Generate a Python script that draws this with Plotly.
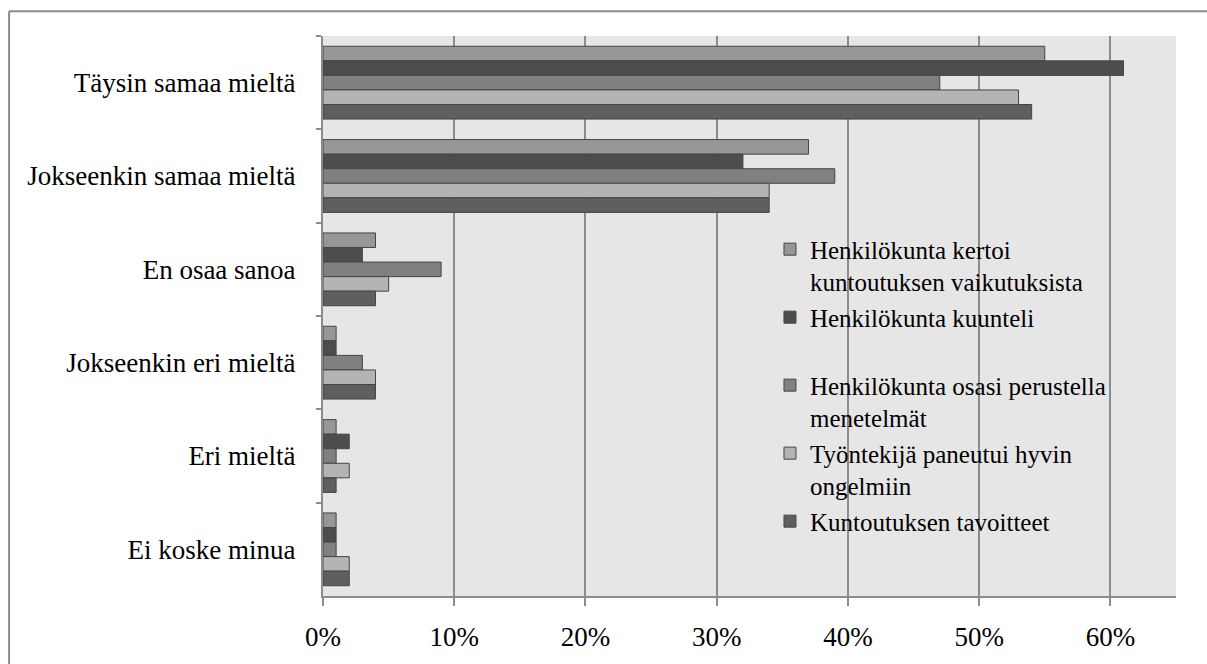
import plotly.graph_objects as go

categories = ["Täysin samaa mieltä", "Jokseenkin samaa mieltä", "En osaa sanoa",
              "Jokseenkin eri mieltä", "Eri mieltä", "Ei koske minua"]

series_names = [
    "Henkilökunta kertoi<br>kuntoutuksen vaikutuksista",
    "Henkilökunta kuunteli<br> ",
    "Henkilökunta osasi perustella<br>menetelmät",
    "Työntekijä paneutui hyvin<br>ongelmiin",
    "Kuntoutuksen tavoitteet",
]

kertoi = [55, 37, 4, 1, 1, 1]
kuunteli = [61, 32, 3, 1, 2, 1]
perustella = [47, 39, 9, 3, 1, 1]
paneutui = [53, 34, 5, 4, 2, 2]
tavoitteet = [54, 34, 4, 4, 1, 2]

series_values = [kertoi, kuunteli, perustella, paneutui, tavoitteet]
series_colors = ["#979797", "#4d4d4d", "#808080", "#b4b4b4", "#5f5f5f"]

x_ticks = [0, 10, 20, 30, 40, 50, 60]
x_tick_labels = ["0%", "10%", "20%", "30%", "40%", "50%", "60%"]

FONT = "Liberation Serif"
FS = 27
LEGEND_FS = 25

fig = go.Figure()
for name, vals, col in zip(series_names, series_values, series_colors):
    fig.add_trace(go.Bar(
        y=categories, x=vals, name=name, orientation="h",
        marker=dict(color=col, line=dict(color="#454545", width=1)),
    ))

fig.update_layout(
    width=1207, height=664,
    barmode="group", bargap=0.22, bargroupgap=0,
    plot_bgcolor="#e6e6e6", paper_bgcolor="white",
    margin=dict(l=323, r=31, t=36, b=65),
    font=dict(family=FONT, size=FS, color="black"),
    legend=dict(x=0.524, y=0.66, xanchor="left", yanchor="top",
                bgcolor="rgba(0,0,0,0)", valign="top",
                font=dict(family=FONT, size=LEGEND_FS), traceorder="normal",
                itemwidth=30),
    showlegend=True,
    shapes=[
        dict(type="line", xref="paper", yref="paper", x0=-0.368, x1=1.1,
             y0=1.0444, y1=1.0444, line=dict(color="#8c8c8c", width=2)),
        dict(type="line", xref="paper", yref="paper", x0=-0.368, x1=-0.368,
             y0=1.0444, y1=-0.2, line=dict(color="#8c8c8c", width=2)),
    ],
)

fig.update_xaxes(
    range=[0, 65], tickvals=x_ticks, ticktext=x_tick_labels,
    showgrid=True, gridcolor="#8c8c8c", gridwidth=2,
    showline=True, linecolor="#8c8c8c", linewidth=2,
    ticks="outside", ticklen=8, tickcolor="#8c8c8c", tickwidth=2,
    zeroline=False, tickfont=dict(family=FONT, size=FS),
    ticklabelstandoff=8,
)
fig.update_yaxes(
    autorange="reversed", showgrid=False,
    showline=True, linecolor="#8c8c8c", linewidth=2,
    ticks="outside", ticklen=5, tickcolor="#8c8c8c", tickwidth=2,
    tickson="boundaries", ticklabelstandoff=20,
    tickfont=dict(family=FONT, size=FS),
)

fig.write_html("out.html")
